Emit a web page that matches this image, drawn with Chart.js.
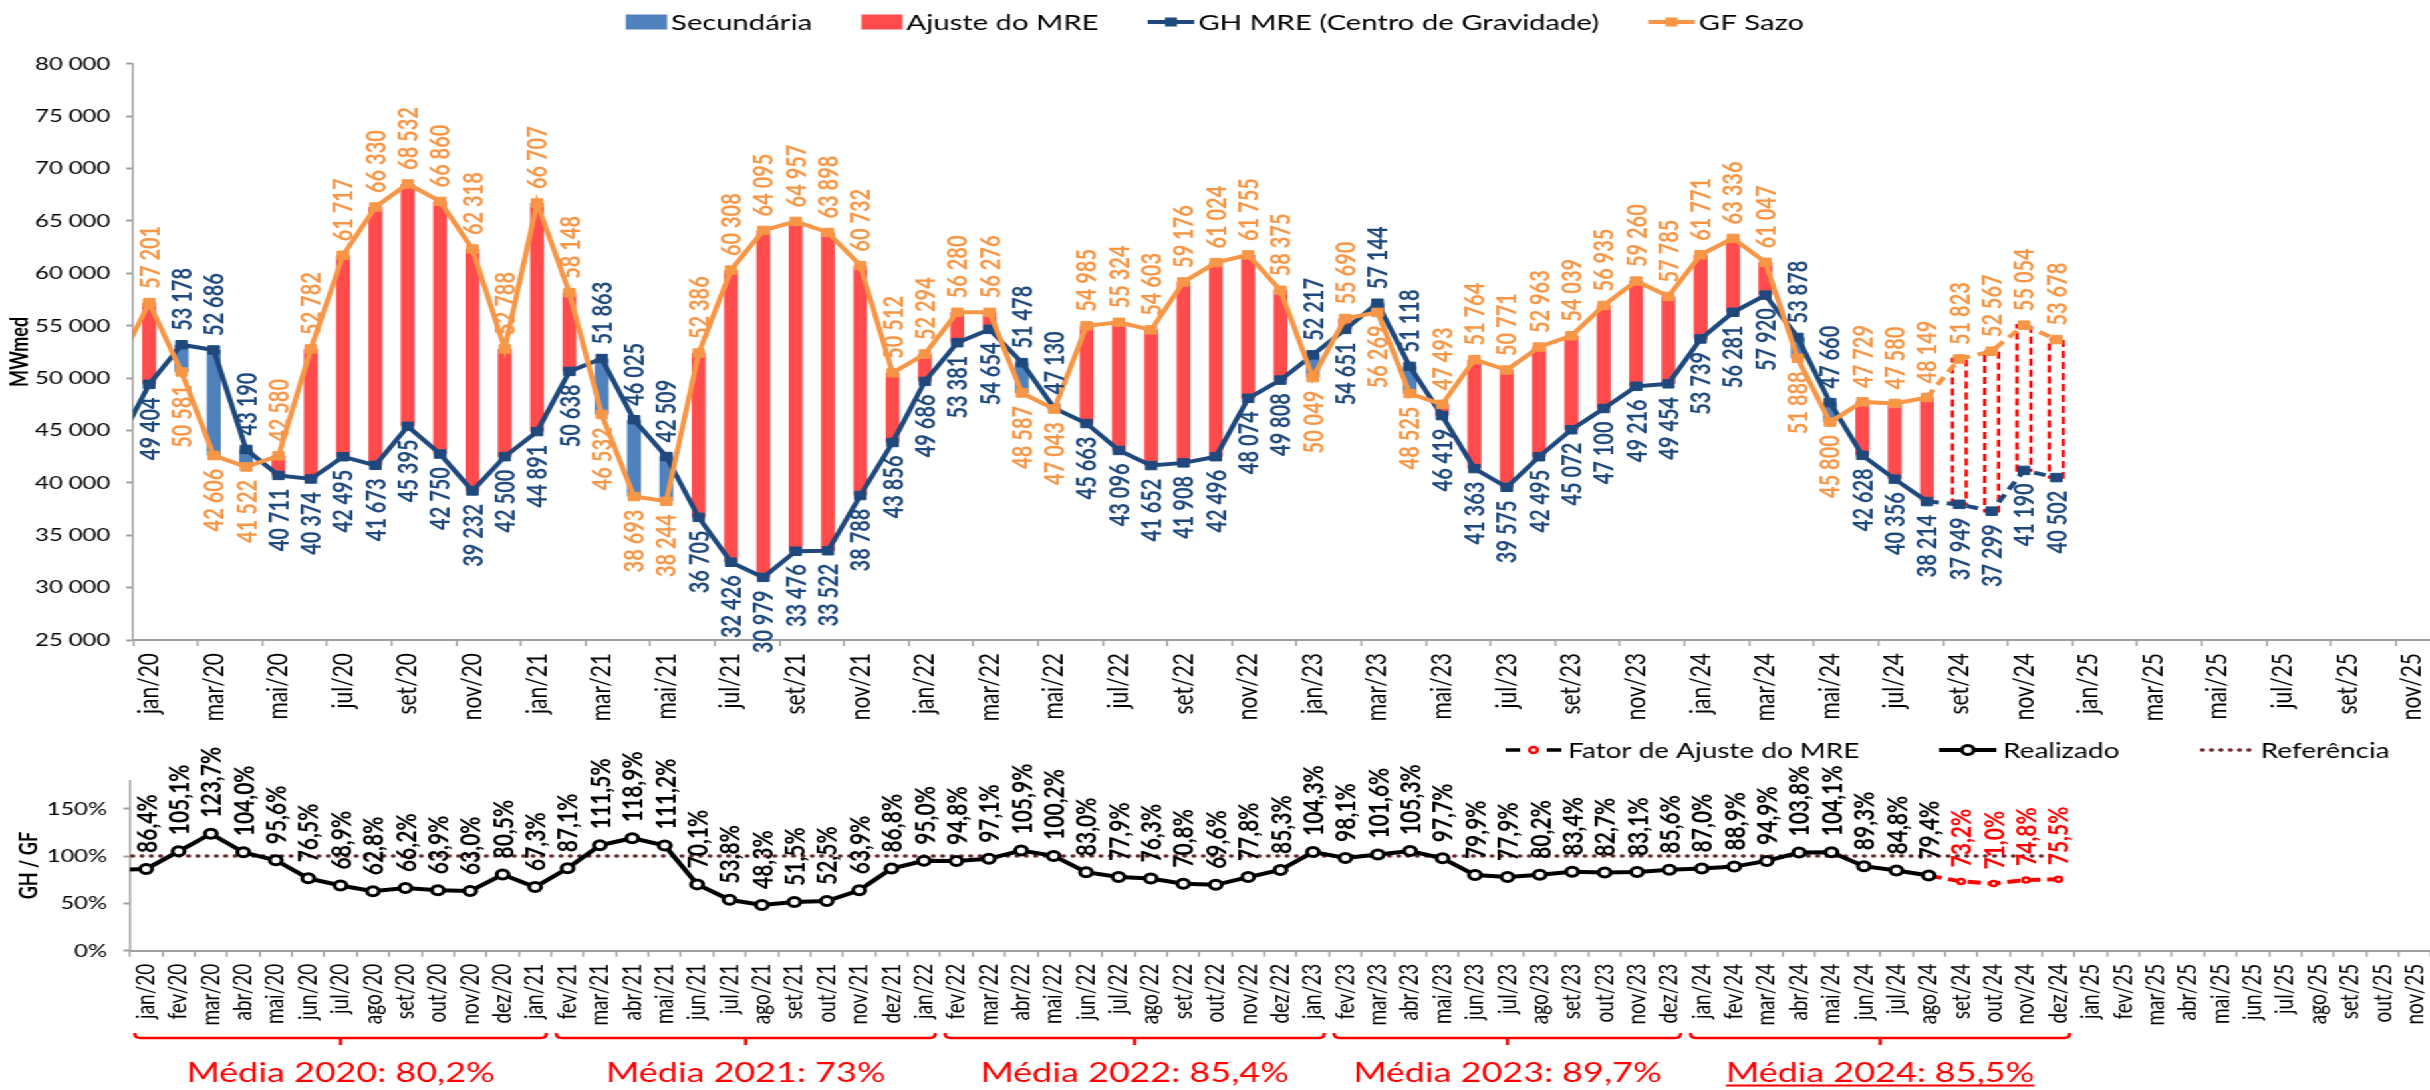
<!DOCTYPE html>
<html lang="pt-BR">
<head>
<meta charset="utf-8">
<title>GH MRE x GF Sazo</title>
<script src="https://cdn.jsdelivr.net/npm/chart.js@4.4.1/dist/chart.umd.min.js"></script>
<style>
  html, body { margin: 0; padding: 0; background: #fff; overflow: hidden; }
  /* o quadro original é esticado na horizontal */
  #quadro { position: absolute; left: 0; top: 0; width: 1870px; height: 1090px; transform: scaleX(1.33); transform-origin: 0 0; }
  #quadro canvas { display: block; }
</style>
</head>
<body>
<div id="quadro">
  <canvas id="graficoMRE" width="1870" height="720"></canvas>
  <canvas id="graficoRazao" width="1870" height="370"></canvas>
</div>
<script>
// meses de dez/19 a dez/25 (dez/19 só para a linha sair da borda do eixo)
const meses = ['jan', 'fev', 'mar', 'abr', 'mai', 'jun', 'jul', 'ago', 'set', 'out', 'nov', 'dez'];
const anos = ['20', '21', '22', '23', '24', '25'];
const categorias = ['dez/19'];
anos.forEach(a => meses.forEach(m => categorias.push(m + '/' + a)));

// GH MRE (Centro de Gravidade) - MWmed, dez/19 a dez/24
const ghMRE = [43500,
  49404, 53178, 52686, 43190, 40711, 40374, 42495, 41673, 45395, 42750, 39232, 42500,
  44891, 50638, 51863, 46025, 42509, 36705, 32426, 30979, 33476, 33522, 38788, 43856,
  49686, 53381, 54654, 51478, 47130, 45663, 43096, 41652, 41908, 42496, 48074, 49808,
  52217, 54651, 57144, 51118, 46419, 41363, 39575, 42495, 45072, 47100, 49216, 49454,
  53739, 56281, 57920, 53878, 47660, 42628, 40356, 38214, 37949, 37299, 41190, 40502];

// GF Sazo - MWmed, dez/19 a dez/24
const gfSazo = [51000,
  57201, 50581, 42606, 41522, 42580, 52782, 61717, 66330, 68532, 66860, 62318, 52788,
  66707, 58148, 46532, 38693, 38244, 52386, 60308, 64095, 64957, 63898, 60732, 50512,
  52294, 56280, 56276, 48587, 47043, 54985, 55324, 54603, 59176, 61024, 61755, 58375,
  50049, 55690, 56269, 48525, 47493, 51764, 50771, 52963, 54039, 56935, 59260, 57785,
  61771, 63336, 61047, 51888, 45800, 47729, 47580, 48149, 51823, 52567, 55054, 53678];

// GH / GF realizado (%), dez/19 a ago/24
const realizado = [85.3,
  86.4, 105.1, 123.7, 104.0, 95.6, 76.5, 68.9, 62.8, 66.2, 63.9, 63.0, 80.5,
  67.3, 87.1, 111.5, 118.9, 111.2, 70.1, 53.8, 48.3, 51.5, 52.5, 63.9, 86.8,
  95.0, 94.8, 97.1, 105.9, 100.2, 83.0, 77.9, 76.3, 70.8, 69.6, 77.8, 85.3,
  104.3, 98.1, 101.6, 105.3, 97.7, 79.9, 77.9, 80.2, 83.4, 82.7, 83.1, 85.6,
  87.0, 88.9, 94.9, 103.8, 104.1, 89.3, 84.8, 79.4];

// fator de ajuste do MRE projetado (%)
const mesesFator = ['ago/24', 'set/24', 'out/24', 'nov/24', 'dez/24'];
const fatorAjuste = [79.4, 73.2, 71.0, 74.8, 75.5];

const referencia = 100;

// médias anuais e meses cobertos por cada chave
const chaves = [
  { de: 'jan/20', ate: 'jan/21', texto: 'Média 2020: 80,2%' },
  { de: 'fev/21', ate: 'jan/22', texto: 'Média 2021: 73%' },
  { de: 'fev/22', ate: 'jan/23', texto: 'Média 2022: 85,4%' },
  { de: 'fev/23', ate: 'dez/23', texto: 'Média 2023: 89,7%' },
  { de: 'jan/24', ate: 'dez/24', texto: 'Média 2024: 85,5%', sublinhado: true }
];

const corGH = '#1F497D', corGF = '#F79646', corAjuste = '#FF4B4B', corSec = '#4F81BD';
const corEixo = '#A0A0A0', corRef = '#6E2A2A', vermelho = '#FF0000';
const fonte = 'Lato';
const idxProj = categorias.indexOf('ago/24');   // depois daqui é projeção

const fmtMil = v => String(v).replace(/\B(?=(\d{3})+(?!\d))/g, ' ');
const fmtPct = v => v.toFixed(1).replace('.', ',') + '%';

// barras flutuantes entre GH e GF
const ajusteMRE = gfSazo.map((gf, i) => (i > 0 && gf > ghMRE[i]) ? [ghMRE[i], gf] : null);
const secundaria = gfSazo.map((gf, i) => (i > 0 && ghMRE[i] > gf) ? [gf, ghMRE[i]] : null);

function textoVertical(ctx, txt, x, y, acima, cor) {
  ctx.save();
  ctx.fillStyle = cor;
  ctx.translate(x, y);
  ctx.rotate(-Math.PI / 2);
  ctx.textAlign = acima ? 'left' : 'right';
  ctx.textBaseline = 'middle';
  ctx.fillText(txt, 0, 0);
  ctx.restore();
}

const tracejadoProjecao = {
  id: 'tracejadoProjecao',
  afterDatasetDraw(chart, args) {
    if (args.index !== 1) return;
    const ctx = chart.ctx;
    ctx.save();
    ctx.strokeStyle = vermelho;
    ctx.lineWidth = 2.5;
    ctx.setLineDash([7, 4]);
    args.meta.data.forEach((b, i) => {
      if (i <= idxProj || !ajusteMRE[i]) return;
      const p = b.getProps(['x', 'y', 'base', 'width'], true);
      ctx.strokeRect(p.x - p.width / 2, Math.min(p.y, p.base), p.width, Math.abs(p.base - p.y));
    });
    ctx.restore();
  }
};

const rotulosMRE = {
  id: 'rotulosMRE',
  afterDatasetsDraw(chart) {
    const ctx = chart.ctx;
    const mGH = chart.getDatasetMeta(2), mGF = chart.getDatasetMeta(3);
    ctx.save();
    ctx.font = 'bold 20px ' + fonte;
    for (let i = chart.scales.x.min; i < ghMRE.length; i++) {
      const ghCima = ghMRE[i] >= gfSazo[i];
      const a = mGH.data[i], b = mGF.data[i];
      textoVertical(ctx, fmtMil(ghMRE[i]), a.x + 1, ghCima ? a.y - 14 : a.y + 13, ghCima, corGH);
      textoVertical(ctx, fmtMil(gfSazo[i]), b.x + 1, ghCima ? b.y + 13 : b.y - 14, !ghCima, corGF);
    }
    ctx.restore();
  },
  afterDraw(chart) {
    // legenda
    const ctx = chart.ctx;
    const ds = chart.data.datasets;
    ctx.save();
    ctx.font = '22px ' + fonte;
    ctx.textBaseline = 'middle';
    const itens = ds.map(d => ({ texto: d.label, cor: d.legendColor, linha: d.type === 'line' }));
    const larg = itens.map(it => (it.linha ? 35 : 31) + 3 + ctx.measureText(it.texto).width);
    const total = larg.reduce((s, w) => s + w, 0) + 37 * (itens.length - 1);
    let x = 913.5 - total / 2;
    const y = 22;
    itens.forEach((it, k) => {
      ctx.fillStyle = it.cor;
      ctx.strokeStyle = it.cor;
      let w = 31;
      if (it.linha) {
        w = 35;
        ctx.lineWidth = 4;
        ctx.beginPath(); ctx.moveTo(x, y); ctx.lineTo(x + w, y); ctx.stroke();
        ctx.fillRect(x + w / 2 - 4.5, y - 4.5, 9, 9);
      } else {
        ctx.fillRect(x, y - 7.5, w, 15);
      }
      ctx.fillStyle = '#000';
      ctx.fillText(it.texto, x + w + 3, y + 1);
      x += larg[k] + 37;
    });
    ctx.restore();
  }
};

new Chart(document.getElementById('graficoMRE'), {
  type: 'bar',
  data: {
    labels: categorias,
    datasets: [
      {
        label: 'Secundária', data: secundaria, legendColor: corSec,
        backgroundColor: corSec, grouped: false, order: 3,
        barPercentage: 0.43, categoryPercentage: 1
      },
      {
        label: 'Ajuste do MRE', data: ajusteMRE, legendColor: corAjuste,
        backgroundColor: c => c.dataIndex > idxProj ? 'rgba(0,0,0,0)' : corAjuste,
        grouped: false, order: 3, barPercentage: 0.43, categoryPercentage: 1
      },
      {
        type: 'line', label: 'GH MRE (Centro de Gravidade)', data: ghMRE, legendColor: corGH,
        borderColor: corGH, backgroundColor: corGH, borderWidth: 4,
        pointStyle: 'rect', pointRadius: 6, pointBorderWidth: 1, order: 2,
        segment: { borderDash: c => c.p0DataIndex >= idxProj ? [9, 6] : undefined }
      },
      {
        type: 'line', label: 'GF Sazo', data: gfSazo, legendColor: corGF,
        borderColor: corGF, backgroundColor: corGF, borderWidth: 4,
        pointStyle: 'rect', pointRadius: 6, pointBorderWidth: 1, order: 1,
        segment: { borderDash: c => c.p0DataIndex >= idxProj ? [9, 6] : undefined }
      }
    ]
  },
  options: {
    responsive: false,
    animation: false,
    layout: { padding: { top: 63.8, right: 10, bottom: 0, left: 0 } },
    plugins: { legend: { display: false }, tooltip: { enabled: false } },
    scales: {
      x: {
        min: 'jan/20',
        offset: true,
        grid: {
          offset: true, drawOnChartArea: false, tickLength: 6, tickWidth: 1.5,
          tickColor: c => (c.tick && meses.indexOf(categorias[c.tick.value].slice(0, 3)) % 2 === 0) ? corEixo : 'rgba(0,0,0,0)'
        },
        border: { color: corEixo, width: 2 },
        ticks: {
          autoSkip: false, minRotation: 90, maxRotation: 90, padding: 7, color: '#000',
          font: { family: fonte, size: 21 },
          callback: function (v) {
            const r = this.getLabelForValue(v);
            return meses.indexOf(r.slice(0, 3)) % 2 === 0 ? r : '';
          }
        },
        afterFit: s => { s.height = 80; }
      },
      y: {
        min: 25000, max: 80000,
        ticks: { stepSize: 5000, padding: 12, color: '#000', font: { family: fonte, size: 18 }, callback: v => fmtMil(v) },
        grid: { drawOnChartArea: false, tickLength: 5, tickWidth: 2, tickColor: corEixo },
        border: { color: corEixo, width: 1.5 },
        title: { display: true, text: 'MWmed', color: '#000', font: { family: fonte, size: 18, weight: 'bold' }, padding: { top: 4, bottom: 0 } },
        afterFit: s => { s.width = 100; }
      }
    }
  },
  plugins: [tracejadoProjecao, rotulosMRE]
});

// ---------------- GH / GF ----------------

const rotulosRazao = {
  id: 'rotulosRazao',
  afterDatasetsDraw(chart) {
    const ctx = chart.ctx;
    const mReal = chart.getDatasetMeta(1), mFator = chart.getDatasetMeta(0);
    ctx.save();
    ctx.font = 'bold 21px ' + fonte;
    for (let i = chart.scales.x.min; i < realizado.length; i++) {
      const p = mReal.data[i];
      textoVertical(ctx, fmtPct(realizado[i]), p.x + 1, p.y - 16, true, '#000');
    }
    fatorAjuste.forEach((v, k) => {
      if (categorias.indexOf(mesesFator[k]) < realizado.length) return;
      const p = mFator.data[k];
      textoVertical(ctx, fmtPct(v), p.x + 1, p.y - 14, true, vermelho);
    });
    ctx.restore();
  },
  afterDraw(chart) {
    const ctx = chart.ctx;
    const xs = chart.scales.x;
    const meia = (xs.getPixelForValue(1) - xs.getPixelForValue(0)) * 0.35;
    ctx.save();
    // chaves e médias anuais
    ctx.strokeStyle = vermelho;
    ctx.fillStyle = vermelho;
    ctx.lineWidth = 2.5;
    ctx.font = '27px ' + fonte;
    ctx.textAlign = 'center';
    ctx.textBaseline = 'alphabetic';
    chaves.forEach(ch => {
      const x0 = Math.max(xs.getPixelForValue(categorias.indexOf(ch.de)) - meia, chart.chartArea.left);
      const x1 = xs.getPixelForValue(categorias.indexOf(ch.ate)) + meia;
      const xm = (x0 + x1) / 2, y = 318;
      ctx.beginPath();
      ctx.moveTo(x0, y - 5);
      ctx.quadraticCurveTo(x0, y, x0 + 4, y);
      ctx.lineTo(x1 - 4, y);
      ctx.quadraticCurveTo(x1, y, x1, y - 5);
      ctx.moveTo(xm, y);
      ctx.lineTo(xm, y + 7);
      ctx.stroke();
      ctx.fillText(ch.texto, xm, 362);
      if (ch.sublinhado) {
        const w = ctx.measureText(ch.texto).width;
        ctx.fillRect(xm - w / 2, 364.5, w, 2);
      }
    });

    // legenda
    ctx.font = '21px ' + fonte;
    ctx.textAlign = 'left';
    ctx.textBaseline = 'middle';
    const y = 30;
    let x = 1132;
    // fator de ajuste
    ctx.strokeStyle = '#000';
    ctx.lineWidth = 3.5;
    ctx.beginPath();
    ctx.moveTo(x, y); ctx.lineTo(x + 11, y);
    ctx.moveTo(x + 31, y); ctx.lineTo(x + 42, y);
    ctx.stroke();
    ctx.strokeStyle = vermelho; ctx.fillStyle = '#fff'; ctx.lineWidth = 2.5;
    ctx.beginPath(); ctx.arc(x + 21, y, 3, 0, Math.PI * 2); ctx.fill(); ctx.stroke();
    ctx.fillStyle = '#000';
    let t = chart.data.datasets[0].label;
    ctx.fillText(t, x + 47, y + 1);
    x += 47 + ctx.measureText(t).width + 60;
    // realizado
    ctx.strokeStyle = '#000'; ctx.lineWidth = 4;
    ctx.beginPath(); ctx.moveTo(x, y); ctx.lineTo(x + 43, y); ctx.stroke();
    ctx.fillStyle = '#fff'; ctx.lineWidth = 3;
    ctx.beginPath(); ctx.arc(x + 21.5, y, 4.5, 0, Math.PI * 2); ctx.fill(); ctx.stroke();
    ctx.fillStyle = '#000';
    t = chart.data.datasets[1].label;
    ctx.fillText(t, x + 48, y + 1);
    x += 48 + ctx.measureText(t).width + 60;
    // referência
    ctx.strokeStyle = corRef; ctx.lineWidth = 3.5; ctx.lineCap = 'round';
    ctx.setLineDash([0.5, 6.5]);
    ctx.beginPath(); ctx.moveTo(x + 2, y); ctx.lineTo(x + 39, y); ctx.stroke();
    ctx.setLineDash([]);
    t = chart.data.datasets[2].label;
    ctx.fillText(t, x + 46, y + 1);
    ctx.restore();
  }
};

new Chart(document.getElementById('graficoRazao'), {
  type: 'line',
  data: {
    labels: categorias,
    datasets: [
      {
        label: 'Fator de Ajuste do MRE',
        data: mesesFator.map((m, k) => ({ x: m, y: fatorAjuste[k] })),
        borderColor: vermelho, borderWidth: 4, borderDash: [10, 5],
        pointRadius: c => c.dataIndex === 0 ? 0 : 2.5,
        pointBackgroundColor: '#fff', pointBorderColor: vermelho, pointBorderWidth: 2.5,
        order: 1
      },
      {
        label: 'Realizado', data: realizado,
        borderColor: '#000', borderWidth: 4,
        pointRadius: 4.5, pointBackgroundColor: '#fff', pointBorderColor: '#000', pointBorderWidth: 3,
        order: 0
      },
      {
        label: 'Referência',
        data: [{ x: 'dez/19', y: referencia }, { x: 'dez/24', y: referencia }],
        borderColor: corRef, borderWidth: 3.5, borderDash: [0.5, 6.5], borderCapStyle: 'round',
        pointRadius: 0, order: 2
      }
    ]
  },
  options: {
    responsive: false,
    animation: false,
    layout: { padding: { top: 60.4, right: 12.3, bottom: 0, left: 0 } },
    plugins: { legend: { display: false }, tooltip: { enabled: false } },
    scales: {
      x: {
        min: 'jan/20',
        offset: true,
        grid: { offset: true, drawOnChartArea: false, tickLength: 6, tickWidth: 1.5, tickColor: corEixo },
        border: { color: corEixo, width: 2 },
        ticks: { autoSkip: false, minRotation: 90, maxRotation: 90, padding: 7, color: '#000', font: { family: fonte, size: 19 } },
        afterFit: s => { s.height = 139.3; }
      },
      y: {
        min: 0, max: 180,
        afterBuildTicks: s => { s.ticks = s.ticks.filter(t => t.value % 50 === 0); },
        ticks: { stepSize: 50, padding: 12, color: '#000', font: { family: fonte, size: 18 }, callback: v => v + '%' },
        grid: { drawOnChartArea: false, tickLength: 5, tickWidth: 2, tickColor: corEixo },
        border: { color: corEixo, width: 1.5 },
        title: { display: true, text: 'GH / GF', color: '#000', font: { family: fonte, size: 18, weight: 'bold' }, padding: { top: 11, bottom: 0 } },
        afterFit: s => { s.width = 97.7; }
      }
    }
  },
  plugins: [rotulosRazao]
});
</script>
</body>
</html>
